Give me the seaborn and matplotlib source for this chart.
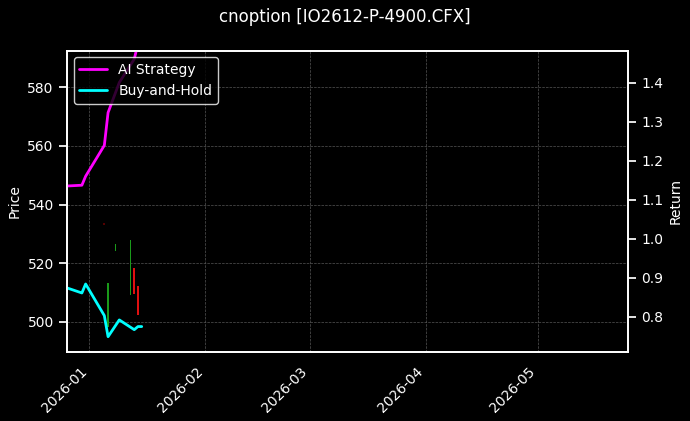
import matplotlib
matplotlib.use("Agg")
import matplotlib.pyplot as plt
import matplotlib.dates as mdates
import seaborn as sns
import pandas as pd
import numpy as np

sns.set_theme(style="dark")
plt.style.use("dark_background")
plt.rcParams['font.family'] = ['DejaVu Sans']
plt.rcParams.update({'font.size': 10, 'axes.labelsize': 10, 'xtick.labelsize': 10,
                     'ytick.labelsize': 10, 'legend.fontsize': 10, 'figure.titlesize': 12})

ret_dates = ["2025-12-26", "2025-12-30", "2025-12-31", "2026-01-05", "2026-01-06",
             "2026-01-09", "2026-01-13", "2026-01-14", "2026-01-15"]
strategy = [1.135, 1.137, 1.16, 1.239, 1.323, 1.40, 1.46, 1.50, 1.52]
buyhold = [0.874, 0.861, 0.884, 0.803, 0.749, 0.792, 0.767, 0.775, 0.775]

c_dates = ["2025-12-31", "2026-01-05", "2026-01-06", "2026-01-08", "2026-01-12", "2026-01-13", "2026-01-14"]
c_open = [578.0, 533.5, 498.3, 524.2, 509.0, 518.4, 512.3]
c_close = [577.5, 533.0, 513.3, 526.6, 528.0, 509.3, 502.4]

df = pd.DataFrame({"date": pd.to_datetime(ret_dates), "AI Strategy": strategy, "Buy-and-Hold": buyhold})
cd = pd.DataFrame({"date": pd.to_datetime(c_dates), "open": c_open, "close": c_close})

fig, ax = plt.subplots(figsize=(6.9, 4.21), dpi=100)
fig.patch.set_facecolor("black")
ax.set_facecolor("black")
for _, r in cd.iterrows():
    up = r["close"] >= r["open"]
    col = "#1a9a1a" if up else "#e01010"
    if abs(r["close"] - r["open"]) < 1:
        col = "#550000"
    lo, hi = min(r["open"], r["close"]), max(r["open"], r["close"])
    ax.bar(r["date"], hi - lo if hi - lo > 0.5 else 0.6, bottom=lo, width=0.5,
           color=col, linewidth=0)
ax.set_ylim(489.8, 592.6)
ax.set_ylabel("Price", color="white")
ax.grid(True, color="#555555", linestyle="--", linewidth=0.5)

ax2 = ax.twinx()
sns.lineplot(data=df, x="date", y="AI Strategy", ax=ax2, color="#ff00ff", linewidth=2, label="AI Strategy")
sns.lineplot(data=df, x="date", y="Buy-and-Hold", ax=ax2, color="#00ffff", linewidth=2, label="Buy-and-Hold")
ax2.set_ylim(0.711, 1.482)
ax2.set_ylabel("Return", color="white")
ax2.set_xlabel("")
ax.set_xlim(pd.Timestamp("2025-12-26"), pd.Timestamp("2026-05-25"))
ax.xaxis.set_major_locator(mdates.MonthLocator())
ax.xaxis.set_major_formatter(mdates.DateFormatter("%Y-%m"))
plt.setp(ax.get_xticklabels(), rotation=45, ha="right")
ax.set_xlabel("")
leg = ax2.legend(loc="upper left", facecolor="black", edgecolor="white", framealpha=0.8)
for a in (ax, ax2):
    for s in a.spines.values():
        s.set_color("white")
fig.suptitle("cnoption [IO2612-P-4900.CFX]", color="white")
fig.subplots_adjust(left=0.097, right=0.91, top=0.88, bottom=0.165)
fig.savefig("out.png", dpi=100, facecolor="black")
